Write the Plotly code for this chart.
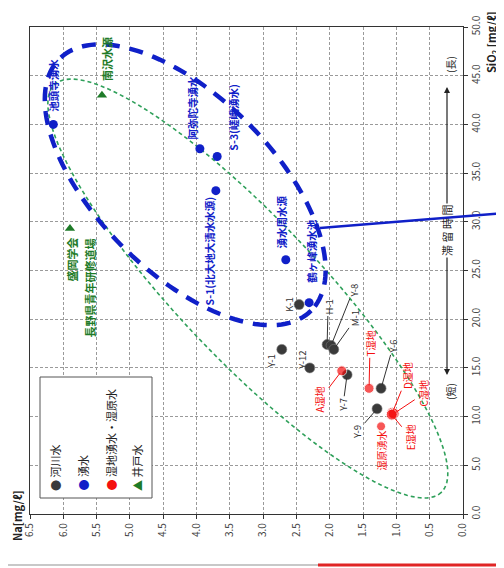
import numpy as np
import plotly.graph_objects as go

# ---------------- data ----------------
river_names = ["K-1", "Y-1", "H-1", "Y-8", "M-1", "Y-12", "Y-7", "Y-6", "Y-9"]
river_na = [2.46, 2.72, 2.04, 1.98, 1.94, 2.30, 1.74, 1.23, 1.29]
river_si = [21.5, 16.9, 17.4, 17.3, 16.9, 15.0, 14.3, 12.9, 10.8]

spring_names = ["池頭寺湧水", "阿弥陀寺湧水", "S-3(嵯峨湧水)", "S-1(北大地大清水水源)", "湧水周水源", "鶴ヶ峰湧水池"]
spring_na = [6.15, 3.95, 3.69, 3.71, 2.66, 2.31]
spring_si = [40.0, 37.5, 36.7, 33.2, 26.1, 21.7]

wet_names = ["A湿地", "T湿地", "D湿地", "C湿地", "E湿地", "湿原湧水"]
wet_na = [1.82, 1.41, 1.06, 1.04, 1.07, 1.23]
wet_si = [14.7, 12.9, 10.4, 10.3, 10.2, 9.0]

well_names = ["南沢水源", "長野県青年研修道場"]
well_na = [5.42, 5.90]
well_si = [43.0, 29.3]

na_ticks = [6.5, 6.0, 5.5, 5.0, 4.5, 4.0, 3.5, 3.0, 2.5, 2.0, 1.5, 1.0, 0.5, 0.0]
si_ticks = [0, 5, 10, 15, 20, 25, 30, 35, 40, 45, 50]

legend_labels = ["河川水", "湧水", "湿地湧水・湿原水", "井戸水"]

# ---------------- styling ----------------
C_RIVER = "#3a3a3a"
C_SPRING = "#1020c8"
C_WET = "#f41010"
C_WELL = "#1e7b28"
C_GREEN_EL = "#2fa05a"
FONT = "Noto Sans CJK JP"

# page has an 8px body margin: figure is drawn 8px smaller and offset
OFF = 8
W, H = 504 - OFF, 568 - OFF
ML, MR, MT, MB = 30 - OFF, 41, 27 - OFF, 54
PW, PH = W - ML - MR, H - MT - MB
NA_PER_PX = 6.5 / PW
SI_PER_PX = 50.0 / PH
REF_L, REF_B = 30, 514  # plot-area left / bottom in page pixels

fig = go.Figure()
fig.add_trace(go.Scatter(x=river_na, y=river_si, mode="markers", name="河川水",
                         marker=dict(color=C_RIVER, size=10, line=dict(color="#777", width=0.6))))
fig.add_trace(go.Scatter(x=spring_na, y=spring_si, mode="markers", name="湧水",
                         marker=dict(color=C_SPRING, size=9)))
fig.add_trace(go.Scatter(x=wet_na, y=wet_si, mode="markers", name="湿地湧水・湿原水",
                         marker=dict(color=C_WET, size=[10, 10, 11, 11, 11, 9])))
fig.add_trace(go.Scatter(x=well_na, y=well_si, mode="markers", name="井戸水",
                         marker=dict(color=C_WELL, size=9, symbol="triangle-up")))


def ellipse_path(c_na, c_si, a_px, b_px, ang_deg, n=160):
    t = np.linspace(0, 2 * np.pi, n)
    th = np.radians(ang_deg)
    dx = a_px * np.cos(t) * np.cos(th) - b_px * np.sin(t) * np.sin(th)
    dy = a_px * np.cos(t) * np.sin(th) + b_px * np.sin(t) * np.cos(th)
    na = c_na - dx * NA_PER_PX
    si = c_si - dy * SI_PER_PX
    return "M " + " L ".join(f"{x:.4f},{y:.4f}" for x, y in zip(na, si)) + " Z"


def py(px):
    return (REF_B - px) / PH


def pxx(px):
    return (px - REF_L) / PW


shapes = []
# green dashed ellipse
shapes.append(dict(type="path", xref="x", yref="y", layer="between",
                   path=ellipse_path(3.23, 23.15, 281, 70, 46.5),
                   line=dict(color=C_GREEN_EL, width=1.6, dash="4px,3px")))
# blue thick dashed ellipse
shapes.append(dict(type="path", xref="x", yref="y", layer="between",
                   path=ellipse_path(4.17, 33.8, 178, 88, 45),
                   line=dict(color=C_SPRING, width=4.5, dash="14px,10px")))
# blue callout line
shapes.append(dict(type="line", xref="paper", yref="paper",
                   x0=pxx(320), y0=py(228), x1=pxx(506), y1=py(213),
                   line=dict(color=C_SPRING, width=2.5)))
# legend box
shapes.append(dict(type="rect", xref="paper", yref="paper",
                   x0=pxx(40), x1=pxx(152), y0=py(498), y1=py(377),
                   fillcolor="white", line=dict(color="#555", width=1)))
# page lines at bottom
shapes.append(dict(type="line", xref="paper", yref="paper",
                   x0=pxx(8), x1=pxx(318), y0=py(565), y1=py(565),
                   line=dict(color="#c8c8c8", width=2)))
shapes.append(dict(type="line", xref="paper", yref="paper",
                   x0=pxx(318), x1=pxx(504), y0=py(565), y1=py(565),
                   line=dict(color="#e02525", width=3)))

ann = []


def txt(x, y, text, color, size=10, bold=False, xs=0, ys=0):
    t = f"<b>{text}</b>" if bold else text
    ann.append(dict(x=x, y=y, xref="x", yref="y", text=t, showarrow=False, textangle=-90,
                    xshift=xs, yshift=ys, xanchor="center", yanchor="middle",
                    font=dict(color=color, size=size, family=FONT)))


def lead(x, y, text, color, ax, ay, size=10, lcolor=None):
    ann.append(dict(x=x, y=y, xref="x", yref="y", text=text, showarrow=True, textangle=-90,
                    ax=ax, ay=ay, arrowhead=0, arrowwidth=1, arrowcolor=lcolor or color,
                    standoff=3, xanchor="center", yanchor="middle",
                    font=dict(color=color, size=size, family=FONT)))


def ptxt(xp, yp, text, size=10, yanchor="middle"):
    ann.append(dict(x=pxx(xp), y=py(yp), xref="paper", yref="paper", text=text,
                    showarrow=False, textangle=-90, xanchor="center", yanchor=yanchor,
                    font=dict(size=size, color="#222", family=FONT)))


# spring labels
sp_off = [(0, 39), (-7, 41), (16, 39), (-6, -60), (-4, 38), (3, 52)]
for n, xv, yv, (xs, ys) in zip(spring_names, spring_na, spring_si, sp_off):
    txt(xv, yv, n, C_SPRING, size=10.5, bold=True, xs=xs, ys=ys)

# well labels
txt(well_na[0], well_si[0], well_names[0], C_WELL, size=11, bold=True, xs=5, ys=36)
txt(well_na[1], well_si[1], "盛岡学会", C_WELL, size=11, bold=True, xs=2, ys=-31)
txt(well_na[1], well_si[1], well_names[1], C_WELL, size=11, bold=True, xs=20, ys=-59)

# river labels
river_lab = {"K-1": ("t", -11, 0), "Y-1": ("t", -10, 12), "H-1": ("l", 1, -38),
             "Y-8": ("l", 22, -55), "M-1": ("l", 22, -31), "Y-12": ("t", -8, -8),
             "Y-7": ("l", -4, 30), "Y-6": ("l", 12, -42), "Y-9": ("l", -20, 23)}
for n, xv, yv in zip(river_names, river_na, river_si):
    kind, a, b = river_lab[n]
    if kind == "t":
        txt(xv, yv, n, "#333", size=9.5, xs=a, ys=-b)
    else:
        lead(xv, yv, n, "#333", a, b, size=9.5, lcolor="#333")

# wetland labels
wet_lab = {"A湿地": ("l", -22, 29), "T湿地": ("l", 1, -45), "D湿地": ("l", 15, -37),
           "C湿地": ("l", 30, -20), "E湿地": ("l", 19, 23), "湿原湧水": ("t", 0, 24)}
for n, xv, yv in zip(wet_names, wet_na, wet_si):
    kind, a, b = wet_lab[n]
    if kind == "t":
        txt(xv, yv, n, C_WET, size=10, xs=a, ys=-b)
    else:
        lead(xv, yv, n, C_WET, a, b, size=10)

# legend entries
leg_cols = [C_RIVER, C_SPRING, C_WET, C_WELL]
leg_syms = ["●", "●", "●", "▲"]
leg_x = [55, 82, 110, 137]
for lab, c, s, xp in zip(legend_labels, leg_cols, leg_syms, leg_x):
    ptxt(xp, 493, f"<span style='color:{c}'>{s}</span> {lab}", size=11, yanchor="bottom")

# residence time arrows (text halves carry the arrows)
xa = pxx(447)
ann.append(dict(x=xa, y=py(87), xref="paper", yref="paper", text="時 間", showarrow=True,
                ax=0, ay=217 - 87, arrowhead=2, arrowsize=1, arrowwidth=1.2, arrowcolor="#222",
                textangle=-90, standoff=0, font=dict(size=11, color="#222", family=FONT)))
ann.append(dict(x=xa, y=py(375), xref="paper", yref="paper", text="滞 留", showarrow=True,
                ax=0, ay=244 - 375, arrowhead=2, arrowsize=1, arrowwidth=1.2, arrowcolor="#222",
                textangle=-90, standoff=0, font=dict(size=11, color="#222", family=FONT)))
ptxt(450, 65, "(長)", size=10)
ptxt(450, 392, "(短)", size=10)

# axis titles
ptxt(17, 516, "<b>Na[mg/ℓ]</b>", size=11)
ptxt(492, 42, "<b>SiO<sub>2</sub> [mg/ℓ]</b>", size=11)

axis_common = dict(showgrid=True, gridcolor="#9a9a9a", griddash="3px,2px", gridwidth=1,
                   showline=True, linecolor="#333", linewidth=1.2, mirror=True,
                   ticks="outside", ticklen=4, tickcolor="#333", zeroline=False,
                   tickangle=-90, tickfont=dict(size=10, color="#444", family=FONT),
                   tickformat=".1f", automargin=False)

fig.update_layout(
    width=W, height=H, autosize=False,
    margin=dict(l=ML, r=MR, t=MT, b=MB, pad=0),
    paper_bgcolor="white", plot_bgcolor="white",
    showlegend=False,
    xaxis=dict(range=[6.5, 0], tickvals=na_ticks, **axis_common),
    yaxis=dict(range=[0, 50], tickvals=si_ticks, side="right", **axis_common),
    shapes=shapes, annotations=ann,
    font=dict(family=FONT),
)

fig.write_html("out.html")
